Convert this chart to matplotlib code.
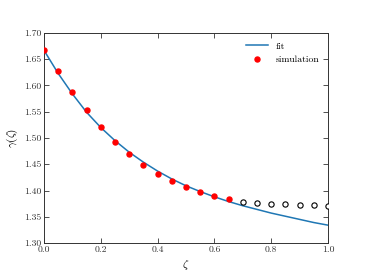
import matplotlib
matplotlib.use("Agg")
import matplotlib.pyplot as plt

plt.rcParams['font.family'] = ['cmr10']
plt.rcParams['mathtext.fontset'] = 'cm'
plt.rcParams['axes.formatter.use_mathtext'] = True
plt.rcParams['axes.unicode_minus'] = False

fit_x = [0.0, 0.05, 0.1, 0.15, 0.2, 0.25, 0.3, 0.35, 0.4, 0.45, 0.5,
         0.55, 0.6, 0.65, 0.7, 0.75, 0.8, 0.85, 0.9, 0.95, 1.0]
fit_y = [1.667, 1.623, 1.584, 1.549, 1.520, 1.495, 1.473, 1.454, 1.437, 1.422, 1.409,
         1.398, 1.388, 1.379, 1.371, 1.364, 1.357, 1.351, 1.345, 1.339, 1.334]

sim_x = [0.0, 0.05, 0.1, 0.15, 0.2, 0.25, 0.3, 0.35, 0.4, 0.45, 0.5, 0.55, 0.6, 0.65]
sim_y = [1.667, 1.627, 1.588, 1.553, 1.520, 1.493, 1.469, 1.449, 1.432, 1.418, 1.407,
         1.398, 1.390, 1.384]

open_x = [0.7, 0.75, 0.8, 0.85, 0.9, 0.95, 1.0]
open_y = [1.3775, 1.3756, 1.3743, 1.3743, 1.373, 1.372, 1.371]

xticks = [0.0, 0.2, 0.4, 0.6, 0.8, 1.0]
yticks = [1.30, 1.35, 1.40, 1.45, 1.50, 1.55, 1.60, 1.65, 1.70]

fig = plt.figure(figsize=(3.65, 2.74), dpi=100)
ax = fig.add_axes([0.1205, 0.1131, 0.7781, 0.7665])

ax.plot(fit_x, fit_y, color='#1f77b4', lw=1.1, label='fit', zorder=2)
ax.plot(sim_x, sim_y, 'o', color='red', ms=3.6, mec='red', label='simulation', zorder=3)
ax.plot(open_x, open_y, 'o', mfc='white', mec='black', ms=3.8, mew=0.8, zorder=3)

ax.set_xlim(0, 1.0)
ax.set_ylim(1.30, 1.70)
ax.set_xticks(xticks)
ax.set_yticks(yticks)
ax.set_xticklabels([f"{v:.1f}" for v in xticks])
ax.set_yticklabels([f"{v:.2f}" for v in yticks])
ax.tick_params(direction='in', top=True, right=True, length=3.5, width=0.6,
               labelsize=7, pad=2, colors='#333333', labelcolor='#333333')
for s in ax.spines.values():
    s.set_linewidth(0.7)
    s.set_color('#333333')

ax.set_xlabel(r'$\zeta$', fontsize=8, labelpad=3)
ax.set_ylabel(r'$\gamma(\zeta)$', fontsize=8, labelpad=3)

ax.legend(loc='upper right', frameon=False, fontsize=7, numpoints=1,
          handlelength=2.2, borderaxespad=0.5)

fig.savefig('out.png', dpi=100)
